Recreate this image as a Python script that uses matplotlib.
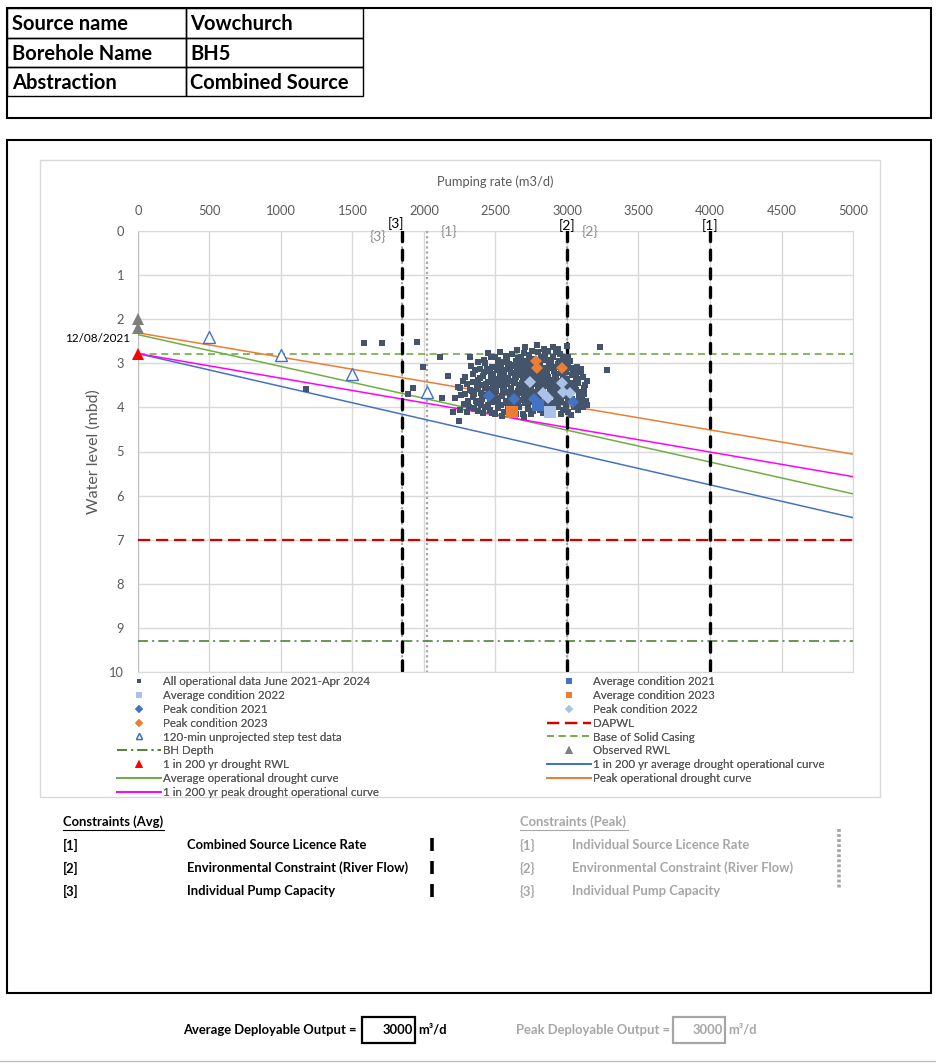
import matplotlib.pyplot as plt
import numpy as np
from matplotlib.lines import Line2D
from matplotlib.patches import Rectangle

plt.rcParams['font.family'] = ['Lato', 'DejaVu Sans']

W, H = 937, 1064

# ---- data ----
header_labels = ['Source name', 'Borehole Name', 'Abstraction']
header_values = ['Vowchurch', 'BH5', 'Combined Source']

x_ticks = [0, 500, 1000, 1500, 2000, 2500, 3000, 3500, 4000, 4500, 5000]
y_ticks = [0, 1, 2, 3, 4, 5, 6, 7, 8, 9, 10]

# all operational data (pumping rate m3/d, water level mbd)
ops_points = [
    (2468, 2.86), (2520, 2.93), (2575, 2.83), (2612, 2.79), (2655, 2.88), (2700, 2.76), (2735, 2.82),
    (2762, 2.90), (2798, 2.74), (2846, 2.80), (2868, 2.71), (2905, 2.86), (2952, 2.78), (2983, 2.92),
    (2940, 2.68), (2720, 2.95), (2640, 2.94), (2560, 2.97), (2880, 2.93), (3010, 2.85), (2706, 2.63),
    (2790, 2.58), (2902, 2.63), (3000, 2.60), (2531, 2.74), (2448, 2.77), (2650, 2.70), (2840, 2.68),
    (2330, 3.05), (2395, 3.12), (2430, 2.99), (2475, 3.08), (2512, 3.15), (2540, 3.02), (2585, 3.10),
    (2620, 3.04), (2648, 3.18), (2680, 3.00), (2712, 3.11), (2745, 3.06), (2770, 3.19), (2812, 3.03),
    (2840, 3.14), (2875, 3.07), (2908, 3.17), (2935, 3.01), (2972, 3.12), (3005, 3.05), (3040, 3.16),
    (3072, 3.09), (2460, 3.18), (2560, 3.20), (2690, 3.16), (2790, 3.10), (2890, 3.00), (2995, 3.19),
    (3100, 3.13),
    (2290, 3.30), (2345, 3.24), (2380, 3.38), (2412, 3.28), (2448, 3.42), (2485, 3.25), (2518, 3.36),
    (2550, 3.29), (2578, 3.44), (2606, 3.22), (2638, 3.35), (2665, 3.27), (2694, 3.41), (2722, 3.31),
    (2750, 3.23), (2778, 3.39), (2805, 3.30), (2833, 3.44), (2860, 3.26), (2888, 3.37), (2917, 3.24),
    (2946, 3.40), (2975, 3.30), (3003, 3.43), (3036, 3.27), (3068, 3.36), (3110, 3.32), (2530, 3.21),
    (2700, 3.24), (2860, 3.42), (2955, 3.22), (2600, 3.40), (2420, 3.20), (3140, 3.40),
    (2255, 3.55), (2300, 3.48), (2338, 3.62), (2370, 3.52), (2402, 3.67), (2436, 3.47), (2468, 3.58),
    (2497, 3.69), (2525, 3.50), (2552, 3.63), (2581, 3.46), (2609, 3.57), (2636, 3.68), (2662, 3.49),
    (2690, 3.60), (2717, 3.54), (2744, 3.66), (2771, 3.47), (2798, 3.59), (2826, 3.70), (2852, 3.51),
    (2880, 3.63), (2907, 3.48), (2934, 3.58), (2963, 3.68), (2991, 3.53), (3022, 3.62), (3055, 3.49),
    (3088, 3.65), (3120, 3.56), (2480, 3.46), (2575, 3.66), (2685, 3.45), (2800, 3.52), (2940, 3.70),
    (3045, 3.55), (2350, 3.70),
    (2215, 3.78), (2262, 3.73), (2305, 3.86), (2340, 3.76), (2372, 3.91), (2404, 3.80), (2433, 3.72),
    (2462, 3.88), (2490, 3.77), (2517, 3.93), (2544, 3.74), (2571, 3.85), (2598, 3.79), (2625, 3.92),
    (2652, 3.71), (2679, 3.83), (2706, 3.90), (2733, 3.75), (2760, 3.87), (2787, 3.78), (2814, 3.94),
    (2841, 3.73), (2868, 3.84), (2896, 3.91), (2923, 3.77), (2951, 3.88), (2979, 3.74), (3008, 3.86),
    (3038, 3.80), (3070, 3.92), (3102, 3.76), (3135, 3.85), (2600, 3.72), (2720, 3.80), (2850, 3.95),
    (2990, 3.93), (2280, 3.92), (2400, 3.95),
    (2250, 4.05), (2318, 3.98), (2380, 4.08), (2430, 4.00), (2478, 4.12), (2520, 4.02), (2556, 4.10),
    (2590, 3.97), (2628, 4.06), (2662, 4.00), (2695, 4.14), (2728, 4.03), (2762, 4.08), (2795, 3.99),
    (2830, 4.12), (2865, 4.04), (2900, 4.09), (2935, 3.98), (2972, 4.05), (3006, 4.10), (3048, 4.00),
    (2545, 4.19), (2700, 4.22), (2960, 4.15), (3030, 4.18),
    (2610, 3.55), (2655, 3.62), (2700, 3.50), (2745, 3.58), (2790, 3.64), (2835, 3.56), (2880, 3.50),
    (2625, 3.75), (2670, 3.68), (2715, 3.72), (2760, 3.68), (2805, 3.83), (2850, 3.77), (2895, 3.70),
    (2940, 3.82), (2560, 3.58), (2515, 3.78), (2580, 3.90), (2650, 3.85), (2730, 3.95), (2810, 3.88),
    (2870, 3.98), (2640, 3.30), (2690, 3.36), (2735, 3.42), (2780, 3.28), (2825, 3.35), (2870, 3.30),
    (2915, 3.36), (2590, 3.33), (2550, 3.40), (2500, 3.50), (2455, 3.62), (2410, 3.74), (2380, 3.58),
    (2520, 3.05), (2600, 3.12), (2680, 3.08), (2760, 3.00), (2850, 3.10), (2930, 3.08), (2990, 3.00),
    (3060, 3.30), (3030, 3.45), (3085, 3.75), (3050, 3.95), (3110, 3.98),
    (2345, 3.42), (2365, 3.85), (2395, 3.33), (2425, 3.55), (2445, 3.95), (2470, 3.30), (2495, 3.88),
    (2505, 3.62), (2535, 3.95), (2548, 3.15), (2565, 3.48), (2592, 3.02), (2598, 3.68), (2617, 3.85),
    (2632, 3.45), (2645, 3.05), (2660, 3.95), (2672, 3.55), (2685, 3.22), (2698, 3.78), (2708, 3.05),
    (2725, 3.62), (2738, 3.18), (2752, 3.85), (2765, 3.35), (2775, 3.72), (2785, 2.95), (2800, 3.42),
    (2818, 3.22), (2822, 3.62), (2838, 2.92), (2845, 3.48), (2855, 3.88), (2862, 3.18), (2878, 3.75),
    (2885, 3.42), (2898, 3.10), (2905, 3.58), (2912, 3.95), (2925, 3.30), (2928, 3.68), (2945, 2.95),
    (2950, 3.50), (2958, 3.85), (2968, 3.20), (2982, 3.62), (2998, 3.35), (3012, 3.75), (3018, 2.95),
    (3025, 3.50), (3035, 3.10), (3048, 3.85), (3058, 3.20), (3065, 3.60), (3078, 3.45), (3092, 3.88),
    (3098, 3.20), (3118, 3.70), (3125, 3.50), (3138, 3.95), (2480, 3.38), (2440, 3.12), (2405, 3.50),
    (2360, 3.15), (2320, 3.60), (2285, 3.70), (2270, 3.40), (2300, 4.10), (2350, 4.02), (2410, 4.12),
    (2465, 4.05), (2500, 4.15), (2610, 4.12), (2640, 4.16), (2745, 4.15), (2810, 4.05), (2885, 4.15),
    (2990, 4.02), (3075, 4.05), (2580, 2.88), (2680, 2.85), (2755, 2.72), (2815, 2.85), (2925, 2.75),
    (2970, 2.85), (2500, 2.85), (2420, 2.92), (2380, 2.98),
    # scattered points away from the main cluster
    (1175, 3.58), (1580, 2.55), (1706, 2.55), (1950, 2.52), (1995, 3.08), (2112, 2.86), (2168, 3.29),
    (2322, 2.86), (1923, 3.56), (1888, 3.70), (2126, 3.79), (2238, 3.54), (3231, 2.63), (3280, 3.15),
    (2245, 4.31), (2203, 4.10),
]
ops_x = [p[0] for p in ops_points]
ops_y = [p[1] for p in ops_points]

avg_2021_x, avg_2021_y = [2797], [3.95]
avg_2022_x, avg_2022_y = [2881], [4.10]
avg_2023_x, avg_2023_y = [2615], [4.10]
peak_2021_x, peak_2021_y = [2455, 2629, 2769, 3042], [3.74, 3.81, 3.81, 3.88]
peak_2022_x, peak_2022_y = [2741, 2832, 2867, 2965, 2972, 3021], [3.42, 3.67, 3.79, 3.45, 3.65, 3.68]
peak_2023_x, peak_2023_y = [2783, 2790, 2965], [2.95, 3.10, 3.10]

step_x, step_y = [500, 1000, 1500, 2020], [2.40, 2.81, 3.25, 3.65]
obs_rwl_x, obs_rwl_y = [0, 0], [2.00, 2.20]
obs_rwl_label = '12/08/2021'
drought_rwl_x, drought_rwl_y = [0], [2.78]

dapwl = 7.0
casing_base = 2.8
bh_depth = 9.3

curve_x = [0, 5000]
avg_200_curve = [2.78, 6.50]
avg_op_curve = [2.35, 5.96]
peak_op_curve = [2.31, 5.06]
peak_200_curve = [2.78, 5.57]

avg_constraint_names = ['[1]', '[2]', '[3]']
avg_constraint_rates = [4000, 3000, 1845]
peak_constraint_names = ['{1}', '{2}', '{3}']
peak_constraint_rates = [2020, 3000, 1845]
avg_constraint_text = ['Combined Source Licence Rate', 'Environmental Constraint (River Flow)',
                       'Individual Pump Capacity']
peak_constraint_text = ['Individual Source Licence Rate', 'Environmental Constraint (River Flow)',
                        'Individual Pump Capacity']
avg_do = 3000
peak_do = 3000

# ---- colours ----
GREY_TXT = '#595959'
LIGHT = '#A6A6A6'
OPS_C = '#44546A'
BLUE = '#4472C4'
LBLUE = '#A9C2E6'
ORANGE = '#ED7D31'
GREEN = '#70AD47'
DKGREEN = '#548235'
RED = '#D40000'
MAGENTA = '#FF00FF'

fig = plt.figure(figsize=(W / 100, H / 100), dpi=100)

# page overlay in pixel coordinates
bg = fig.add_axes([0, 0, 1, 1], zorder=0)
bg.set_xlim(0, W)
bg.set_ylim(H, 0)
bg.axis('off')

# header table
bg.add_patch(Rectangle((7, 8), 924, 110, fill=False, ec='black', lw=1.5))
row_edges = [8, 38, 67, 96]
for i in range(3):
    bg.add_patch(Rectangle((7, row_edges[i]), 179, row_edges[i + 1] - row_edges[i], fill=False, ec='black', lw=1))
    bg.add_patch(Rectangle((186, row_edges[i]), 177, row_edges[i + 1] - row_edges[i], fill=False, ec='black', lw=1))
    yc = (row_edges[i] + row_edges[i + 1]) / 2 + 1.5
    bg.text(12, yc, header_labels[i], fontsize=14.5, fontweight='bold', va='center', ha='left')
    bg.text(190, yc, header_values[i], fontsize=14.5, fontweight='bold', va='center', ha='left')

# main box and chart area
bg.add_patch(Rectangle((7, 140), 924, 853, fill=False, ec='black', lw=1.5))
bg.add_patch(Rectangle((40, 160), 840, 637, fill=False, ec='#D9D9D9', lw=1))

# ---- chart ----
ax = fig.add_axes([138 / W, 1 - 672 / H, 715 / W, 441 / H], zorder=2)
ax.set_xlim(0, 5000)
ax.set_ylim(10, 0)
ax.set_xticks(x_ticks)
ax.set_yticks(y_ticks)
ax.xaxis.tick_top()
ax.xaxis.set_label_position('top')
ax.tick_params(length=0, labelsize=9.3, labelcolor=GREY_TXT)
ax.tick_params(axis='x', pad=10)
ax.tick_params(axis='y', pad=10)
ax.grid(True, color='#D9D9D9', lw=1)
ax.set_axisbelow(True)
for s in ax.spines.values():
    s.set_color('#D9D9D9')
ax.spines['left'].set_color('#BFBFBF')
ax.set_xlabel('Pumping rate (m3/d)', fontsize=9.3, color=GREY_TXT, labelpad=14)
ax.set_ylabel('Water level (mbd)', fontsize=11.5, color=GREY_TXT, labelpad=6)

# constraint lines
for name, xv in zip(peak_constraint_names, peak_constraint_rates):
    ax.plot([xv, xv], [0, 10], color=LIGHT, lw=1.6, dashes=(1, 1.3), zorder=3)
for name, xv in zip(avg_constraint_names, avg_constraint_rates):
    ax.plot([xv, xv], [0, 10], color='black', lw=2.4, dashes=(3.0, 2.6),
            dash_capstyle='round', zorder=4)

avg_label_off = {'[1]': (0, 5), '[2]': (0, 5), '[3]': (-6, 7)}
peak_label_off = {'{1}': (22, -1), '{2}': (23, -1), '{3}': (-24, -6)}
for name, xv in zip(avg_constraint_names, avg_constraint_rates):
    dx, dy = avg_label_off[name]
    ax.annotate(name, (xv, 0), xytext=(dx, dy), textcoords='offset pixels', ha='center', va='center',
                fontsize=10, color='black', annotation_clip=False)
for name, xv in zip(peak_constraint_names, peak_constraint_rates):
    dx, dy = peak_label_off[name]
    ax.annotate(name, (xv, 0), xytext=(dx, dy), textcoords='offset pixels', ha='center', va='center',
                fontsize=10, color='#8C8C8C', annotation_clip=False)

# horizontal levels
ax.axhline(dapwl, color=RED, lw=1.6, dashes=(5.5, 2.6), zorder=3)
ax.axhline(casing_base, color=GREEN, lw=1.2, dashes=(4.2, 2.8), zorder=3)
ax.axhline(bh_depth, color=DKGREEN, lw=1.2, dashes=(6, 2.5, 1.2, 2.5), zorder=3)

# drought curves
ax.plot(curve_x, avg_200_curve, color=BLUE, lw=1.1, zorder=3)
ax.plot(curve_x, avg_op_curve, color=GREEN, lw=1.1, zorder=3)
ax.plot(curve_x, peak_op_curve, color=ORANGE, lw=1.1, zorder=3)
ax.plot(curve_x, peak_200_curve, color=MAGENTA, lw=1.1, zorder=3)

# operational data
ax.plot(ops_x, ops_y, 's', color=OPS_C, ms=3.9, mew=0, zorder=5)
ax.plot(avg_2021_x, avg_2021_y, 's', color=BLUE, ms=8, mew=0, zorder=6)
ax.plot(avg_2022_x, avg_2022_y, 's', color=LBLUE, ms=8, mew=0, zorder=6)
ax.plot(avg_2023_x, avg_2023_y, 's', color=ORANGE, ms=8, mew=0, zorder=6)
ax.plot(peak_2021_x, peak_2021_y, 'D', color=BLUE, ms=6.5, mew=0, zorder=6)
ax.plot(peak_2022_x, peak_2022_y, 'D', color=LBLUE, ms=6.5, mew=0, zorder=6)
ax.plot(peak_2023_x, peak_2023_y, 'D', color=ORANGE, ms=6.5, mew=0, zorder=6)

# test data and rest water levels
ax.plot(step_x, step_y, '^', mfc='white', mec=BLUE, ms=8.5, mew=1, zorder=6)
ax.plot(obs_rwl_x, obs_rwl_y, '^', color='#7F7F7F', ms=8, mew=0, zorder=7, clip_on=False)
ax.plot(drought_rwl_x, drought_rwl_y, '^', color='#FF0000', ms=8, mew=0, zorder=7, clip_on=False)
ax.annotate(obs_rwl_label, (obs_rwl_x[1], obs_rwl_y[1]), xytext=(-8, -10), textcoords='offset pixels',
            ha='right', va='center', fontsize=8.5, color='black', annotation_clip=False)

# ---- legend (two columns as in the workbook) ----
def mk(marker, color, ms, mfc=None):
    return Line2D([], [], ls='none', marker=marker, color=color, ms=ms, mew=1 if mfc else 0,
                  mfc=mfc if mfc else color)

def ln(color, lw, dashes=None):
    h = Line2D([], [], color=color, lw=lw)
    if dashes:
        h.set_dashes(dashes)
    return h

left_items = [
    (mk('s', OPS_C, 2.5), 'All operational data June 2021-Apr 2024'),
    (mk('s', LBLUE, 5), 'Average condition 2022'),
    (mk('D', BLUE, 4), 'Peak condition 2021'),
    (mk('D', ORANGE, 4), 'Peak condition 2023'),
    (mk('^', BLUE, 5, 'white'), '120-min unprojected step test data'),
    (ln(DKGREEN, 1.2, (6, 2.5, 1.2, 2.5)), 'BH Depth'),
    (mk('^', '#FF0000', 5.5), '1 in 200 yr drought RWL'),
    (ln(GREEN, 1.3), 'Average operational drought curve'),
    (ln(MAGENTA, 1.3), '1 in 200 yr peak drought operational curve'),
]
right_items = [
    (mk('s', BLUE, 5), 'Average condition 2021'),
    (mk('s', ORANGE, 5), 'Average condition 2023'),
    (mk('D', LBLUE, 4), 'Peak condition 2022'),
    (ln(RED, 1.6, (5.5, 2.6)), 'DAPWL'),
    (ln(GREEN, 1.2, (4.2, 2.8)), 'Base of Solid Casing'),
    (mk('^', '#7F7F7F', 5.5), 'Observed RWL'),
    (ln(BLUE, 1.3), '1 in 200 yr average drought operational curve'),
    (ln(ORANGE, 1.3), 'Peak operational drought curve'),
]
for items, x0 in ((left_items, 117), (right_items, 547)):
    leg = fig.legend([h for h, _ in items], [t for _, t in items], loc='upper left',
                     bbox_to_anchor=(x0 / W, 1 - 676 / H), frameon=False, fontsize=8.3,
                     handlelength=3.8, handletextpad=0.2, labelspacing=0.25, borderpad=0,
                     borderaxespad=0)
    for t in leg.get_texts():
        t.set_color(GREY_TXT)
    fig.add_artist(leg)

# ---- constraints tables ----
FS = 9.4
bg.text(63, 822, 'Constraints (Avg)', fontsize=FS, fontweight='bold', va='center')
bg.plot([63, 164], [830, 830], color='black', lw=0.8)
bg.text(520, 822, 'Constraints (Peak)', fontsize=FS, fontweight='bold', va='center', color=LIGHT)
bg.plot([520, 628], [830, 830], color=LIGHT, lw=0.8)
for i in range(3):
    yy = 845 + 23 * i
    bg.text(63, yy, avg_constraint_names[i], fontsize=FS, fontweight='bold', va='center')
    bg.text(187, yy, avg_constraint_text[i], fontsize=FS, fontweight='bold', va='center')
    bg.plot([432, 432], [yy - 7, yy + 6], color='black', lw=2.6, solid_capstyle='butt')
    bg.text(520, yy, peak_constraint_names[i], fontsize=FS, fontweight='bold', va='center', color=LIGHT)
    bg.text(572, yy, peak_constraint_text[i], fontsize=FS, fontweight='bold', va='center', color=LIGHT)
bg.plot([839, 839], [829, 889], color=LIGHT, lw=2.6, dashes=(0.8, 0.6))

# ---- deployable output ----
bg.text(357, 1030, 'Average Deployable Output =', fontsize=FS, fontweight='bold', ha='right', va='center')
bg.add_patch(Rectangle((362, 1017), 53, 26, fill=False, ec='black', lw=1.6))
bg.text(413, 1030, str(avg_do), fontsize=FS, fontweight='bold', ha='right', va='center')
bg.text(418, 1030, 'm³/d', fontsize=FS, fontweight='bold', ha='left', va='center')
bg.text(670, 1030, 'Peak Deployable Output =', fontsize=FS, fontweight='bold', ha='right', va='center', color=LIGHT)
bg.add_patch(Rectangle((673, 1017), 52, 26, fill=False, ec=LIGHT, lw=1.6))
bg.text(723, 1030, str(peak_do), fontsize=FS, fontweight='bold', ha='right', va='center', color=LIGHT)
bg.text(728, 1030, 'm³/d', fontsize=FS, fontweight='bold', ha='left', va='center', color=LIGHT)
bg.plot([0, W], [1061, 1061], color='#BFBFBF', lw=1)

fig.savefig('out.png', dpi=100)
